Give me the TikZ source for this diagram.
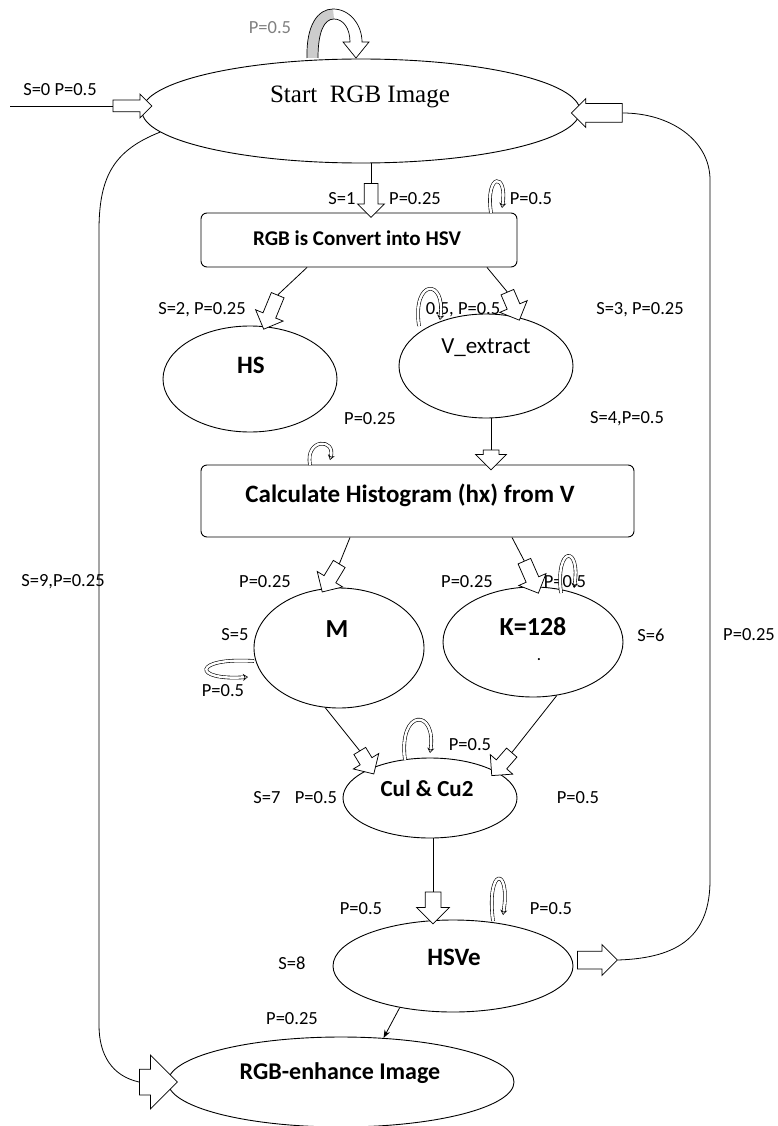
\documentclass[tikz,border=0pt]{standalone}
\usepackage{fontspec}
\setmainfont{Liberation Serif}
\newfontfamily\calfont{Carlito}
\usetikzlibrary{shapes.geometric,shapes.arrows,calc,arrows.meta}
\tikzset{
  lab/.style={font=\calfont\fontsize{18.5}{20}\selectfont, inner sep=0},
  ttl/.style={font=\calfont\bfseries\fontsize{#1}{#1}\selectfont, inner sep=0},
  ell/.style={draw, ellipse, line width=0.9pt, inner sep=0, fill=white},
  boxn/.style={draw, rounded corners=6pt, line width=0.9pt, inner sep=0},
  barr/.style={draw, single arrow, fill=white, line width=0.75pt, inner xsep=0, single arrow tip angle=90},
  conn/.style={line width=0.8pt},
  sl/.style={line width=0.6pt, double distance=2.4pt, -{Stealth[open,length=5pt,width=7pt]}}
}
\newcommand\barrow[5]{\path let \p1=($(#3)-(#2)$), \n1={atan2(\y1,\x1)}, \n2={veclen(\x1,\y1)} in node[barr, rotate=\n1, minimum height=\n2, inner ysep=#4/2, single arrow head extend=(#5-#4)/2] (#1) at ($(#2)!0.5!(#3)$) {};}
\begin{document}
\begin{tikzpicture}[x=1pt,y=-1pt]
\useasboundingbox[fill=white] (0,0) rectangle (778,1126);

% ellipses and boxes
\node[ell, minimum width=438, minimum height=104] (start) at (361,111) {};
\node[font=\fontsize{25}{25}\selectfont, inner sep=0] (startT) at (360,97) {Start\ \ RGB Image};
\node[boxn, minimum width=316, minimum height=54] (rgb) at (359,240) {};
\node[ttl=21] (rgbT) at (357,238) {RGB is Convert into HSV};
\node[ell, minimum width=174, minimum height=106] (hs) at (250,379) {};
\node[ttl=25] (hsT) at (251,365) {HS};
\node[ell, minimum width=174, minimum height=104] (vx) at (486,366) {};
\node[font=\calfont\fontsize{23}{23}\selectfont, inner sep=0] (vxT) at (486,348) {V\_extract};
\node[boxn, minimum width=433, minimum height=72] (hist) at (417.5,501) {};
\node[ttl=25] (histT) at (410,495) {Calculate Histogram (hx) from V};
\node[ell, minimum width=170, minimum height=120] (m) at (339,648) {};
\node[ttl=26] (mT) at (337,629) {M};
\node[ell, minimum width=180, minimum height=110] (k) at (533,642) {};
\node[ttl=26] (kT) at (533,627) {K=128};
\node[ttl=14] (kdot) at (539,660) {.};
\node[ell, minimum width=174, minimum height=80] (cu) at (430,798) {};
\node[ttl=23] (cuT) at (427,789) {Cul \& Cu2};
\node[ell, minimum width=240, minimum height=92] (hsve) at (453,966) {};
\node[ttl=25] (hsveT) at (454,957) {HSVe};
\node[ell, minimum width=346, minimum height=90] (rgbe) at (341,1082) {};
\node[ttl=24] (rgbeT) at (340,1073) {RGB-enhance Image};

% block arrows
\barrow{a0}{110,106}{149,106}{11}{23}
\barrow{a1}{371,180}{371,214}{13}{26}
\barrow{aHS}{279,292}{265,326}{13}{29}
\barrow{aV}{506,289}{518,317}{13}{29}
\barrow{aH}{491,446}{491,466}{15}{30}
\barrow{aM}{341,561}{324,589}{13}{29}
\barrow{aK}{523,558}{537,590}{13}{29}
\barrow{aC1}{358,748}{372,771}{13}{29}
\barrow{aC2}{514,750}{494,773}{13}{29}
\barrow{aHV}{433,888}{433,920}{15}{32}
\barrow{aR1}{573,960}{613,960}{17}{30}
\barrow{aR2}{627,113}{576,113}{18}{28}
\barrow{aL}{133,1082}{171,1082}{25}{53}

% connectors
\coordinate (in) at (10,106);
\draw[conn] (in) -- (a0.tail);
\draw[conn] (a1.tail |- start.south) -- (a1.tail);
\draw[conn] ($(rgb.south)+(-52,0)$) -- (aHS.tail);
\draw[conn] ($(rgb.south)+(128,0)$) -- (aV.tail);
\draw[conn] (aH.tail |- vx.south) -- (aH.tail);
\draw[conn] ($(hist.south)+(-67.5,0)$) -- (aM.tail);
\draw[conn] ($(hist.south)+(94.5,0)$) -- (aK.tail);
\draw[conn] (m.-103) -- (aC1.tail);
\draw[conn] (k.-66) -- (aC2.tail);
\draw[conn] (aHV.tail |- cu.south) -- (aHV.tail);
\draw[conn] (aR1.tip) .. controls (680,958) and (710,935) .. (710,880) -- (710,180) .. controls (710,140) and (670,113) .. (aR2.tail);
\draw[conn] (start.186) .. controls (115,150) and (99,175) .. (99,230) -- (99,1025) .. controls (99,1055) and (112,1076) .. (aL.tail);
\draw[conn, -{Stealth[length=8pt,width=6pt]}] (hsve.218) -- (rgbe.46);

% top self loop
\fill[gray!40] (307,58) .. controls (306,25) and (318,9) .. (333,9) -- (334,19) .. controls (324,19) and (318,32) .. (318,58) -- cycle;
\draw[line width=0.7pt] (307,58) .. controls (306,25) and (318,9) .. (333,9) .. controls (350,9) and (362,25) .. (362,42) -- (369,42) -- (356,58) -- (343,42) -- (350,42) .. controls (350,28) and (343,19) .. (334,19) .. controls (324,19) and (318,32) .. (318,58);

% labels
\node[lab, text=gray] (l0) at (270,28) {P=0.5};
\node[lab] (l1) at (60,90) {S=0 P=0.5};
\node[lab] (l2) at (342,199) {S=1};
\node[lab] (l3) at (415,199) {P=0.25};
\node[lab] (l4) at (531,199) {P=0.5};
\node[lab] (l5) at (202,310) {S=2, P=0.25};
\node[lab] (l6) at (463,310) {0.5, P=0.5};
\node[lab] (l7) at (640,310) {S=3, P=0.25};
\node[lab] (l8) at (370,419) {P=0.25};
\node[lab] (l9) at (627,419) {S=4,P=0.5};
\node[lab] (l10) at (265,582) {P=0.25};
\node[lab] (l11) at (467,582) {P=0.25};
\node[lab] (l12) at (565,582) {P=0.5};
\node[lab] (l13) at (63,582) {S=9,P=0.25};
\node[lab] (l14) at (235,635) {S=5};
\node[lab] (l15) at (651,635) {S=6};
\node[lab] (l16) at (749,635) {P=0.25};
\node[lab] (l17) at (223,691) {P=0.5};
\node[lab] (l18) at (470,745) {P=0.5};
\node[lab] (l19) at (267,798) {S=7};
\node[lab] (l20) at (316,798) {P=0.5};
\node[lab] (l21) at (578,798) {P=0.5};
\node[lab] (l22) at (361,909) {P=0.5};
\node[lab] (l23) at (551,909) {P=0.5};
\node[lab] (l24) at (292,963) {S=8};
\node[lab] (l25) at (292,1019) {P=0.25};

% small self loops
\draw[sl] (491,213) .. controls (485,172) and (508,172) .. (502,208);
\draw[sl] (419,326) .. controls (412,278) and (446,278) .. (440,320);
\draw[sl] (310,465) .. controls (305,438) and (336,438) .. (330,460);
\draw[sl] (561,593) .. controls (555,545) and (581,545) .. (574,588);
\draw[sl] (405,760) .. controls (398,708) and (437,708) .. (430,753);
\draw[sl] (493,921) .. controls (486,866) and (511,866) .. (503,915);
\draw[sl] (254,661) .. controls (192,657) and (192,681) .. (248,677);
\end{tikzpicture}
\end{document}
